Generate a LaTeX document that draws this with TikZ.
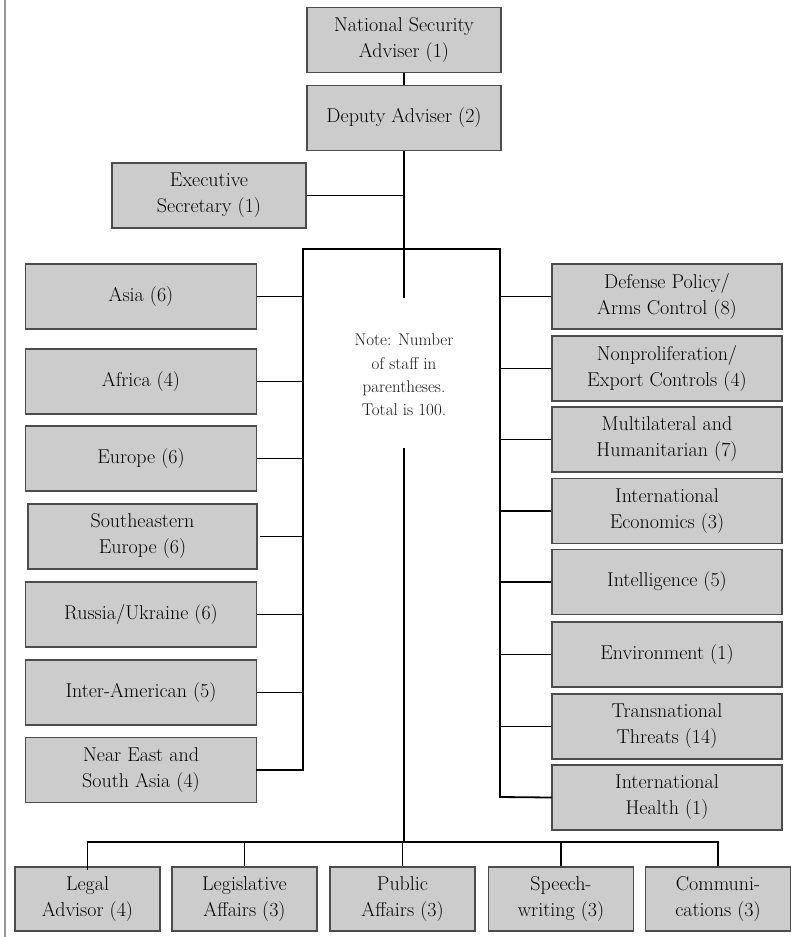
\documentclass[tikz,border=0pt]{standalone}
\usepackage{fontspec}
\begin{document}
\begin{tikzpicture}[x=1pt,y=-1pt,
  orgbox/.style={draw=black!70, line width=1.4pt, fill=black!20, text=black,
    align=center, inner sep=0pt, minimum height=65pt,
    font=\fontsize{20}{26}\selectfont},
  topbox/.style={orgbox, minimum width=194pt},
  sidebox/.style={orgbox, minimum width=231pt},
  lowbox/.style={orgbox, minimum width=145pt, minimum height=64pt},
  link/.style={draw=black, line width=1.8pt},
  notetext/.style={align=center, inner sep=0pt, text=black!90,
    font=\fontsize{17}{23.3}\selectfont}]
\useasboundingbox (0,0) rectangle (792,937);
\fill[white] (0,0) rectangle (792,937);
\draw[black!40, line width=2pt] (5,0) -- (5,937);

% top
\node[topbox] (nsa) at (404,40) {National Security\\Adviser (1)};
\node[topbox] (dep) at (404,118) {Deputy Adviser (2)};
\node[topbox] (exec) at (209,195.5) {Executive\\Secretary (1)};

% left column
\node[sidebox] (asia) at (141,296.5) {Asia (6)};
\node[sidebox] (africa) at (141,381.5) {Africa (4)};
\node[sidebox] (europe) at (141,458.5) {Europe (6)};
\node[sidebox, minimum width=229pt] (seeu) at (142.5,536.5) {Southeastern\\Europe (6)};
\node[sidebox] (russia) at (141,614.5) {Russia/Ukraine (6)};
\node[sidebox] (inter) at (141,692.5) {Inter-American (5)};
\node[sidebox] (neast) at (141,770) {Near East and\\South Asia (4)};

% right column
\node[sidebox, minimum width=230pt] (defense) at (667,296.5) {Defense Policy/\\Arms Control (8)};
\node[sidebox, minimum width=230pt] (nonpro) at (667,368.5) {Nonproliferation/\\Export Controls (4)};
\node[sidebox, minimum width=230pt] (multi) at (667,439.5) {Multilateral and\\Humanitarian (7)};
\node[sidebox, minimum width=230pt] (econ) at (667,511) {International\\Economics (3)};
\node[sidebox, minimum width=230pt] (intel) at (667,582) {Intelligence (5)};
\node[sidebox, minimum width=230pt] (env) at (667,654.5) {Environment (1)};
\node[sidebox, minimum width=230pt] (trans) at (667,726.5) {Transnational\\Threats (14)};
\node[sidebox, minimum width=230pt] (health) at (667,797.5) {International\\Health (1)};

% bottom row
\node[lowbox] (legal) at (87.5,899) {Legal\\Advisor (4)};
\node[lowbox] (legis) at (244.5,899) {Legislative\\Affairs (3)};
\node[lowbox] (public) at (402.5,899) {Public\\Affairs (3)};
\node[lowbox] (speech) at (561,899) {Speech-\\writing (3)};
\node[lowbox] (comm) at (718,899) {Communi-\\cations (3)};

% note
\node[notetext] (note) at (404,375) {Note: Number\\of staff in\\parentheses.\\Total is 100.};

% bus coordinates
\coordinate (gapTop) at (404,298);
\coordinate (gapBot) at (404,448);
\coordinate (lbusTop) at (303,249);
\coordinate (rbusTop) at (500,249);
\coordinate (lbusEnd) at (303,770);
\coordinate (rbusEnd) at (500,797);
\coordinate (lowbus) at (404,842);
\coordinate (lowL) at (87.5,842);
\coordinate (lowR) at (718,842);

% connectors
\draw[link] (nsa.south) -- (dep.north);
\draw[link] (dep.south) -- (gapTop);
\draw[link] (gapBot) -- (lowbus);
\draw[link] (exec.east) -- (exec.east -| dep.south);
\draw[link, line cap=rect] (lbusTop) -- (rbusTop);
\draw[link] (lbusTop) -- (lbusEnd);
\draw[link] (rbusTop) -- (rbusEnd);
\foreach \b in {asia,africa,europe,russia,inter}
  \draw[link] (\b.east) -- (\b.east -| lbusTop);
\draw[link] ([xshift=2pt]seeu.east) -- (seeu.east -| lbusTop);
\draw[link, line cap=rect] (neast.east) -- (lbusEnd);
\foreach \b in {defense,nonpro,multi,econ,intel,env,trans}
  \draw[link] (\b.west) -- (\b.west -| rbusTop);
\draw[link, line cap=rect] (health.west) -- (rbusEnd);
\draw[link, line cap=rect] (lowL) -- (lowR);
\draw[link] (lowL) -- ([yshift=-4pt]legal.north);
\foreach \b in {legis,public,speech}
  \draw[link] (\b.north |- lowL) -- (\b.north);
\draw[link] (lowR) -- (comm.north);
\end{tikzpicture}
\end{document}
